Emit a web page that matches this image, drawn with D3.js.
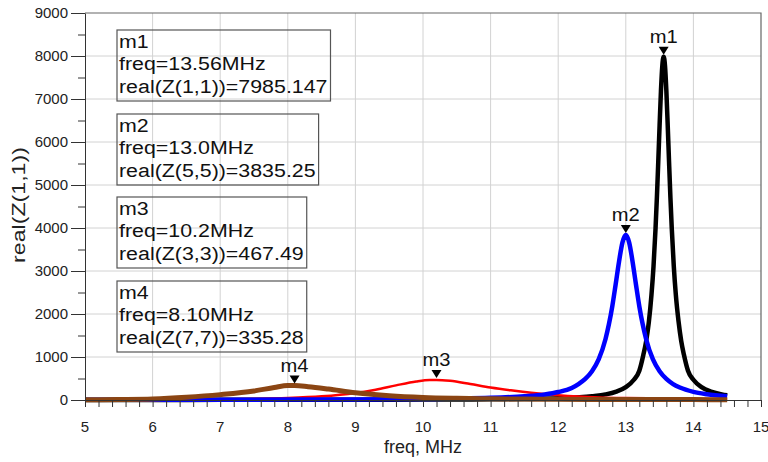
<!DOCTYPE html>
<meta charset="utf-8">
<script src="https://d3js.org/d3.v7.min.js"></script>
<style>
  body { margin: 0; background: #fff; }
  text { font-family: "Liberation Sans", Arial, sans-serif; }
</style>
<div id="chart"></div>
<script>

// traces (freq in MHz, real part of Z in ohms)
var freqZ11 = [5.0, 6.0, 7.0, 8.0, 9.0, 10.0, 10.5, 11.0, 11.5, 12.0, 12.5, 12.7, 12.86, 13.0, 13.12, 13.2, 13.26, 13.3, 13.34, 13.38, 13.41, 13.44, 13.46, 13.48, 13.5, 13.52, 13.54, 13.56, 13.58, 13.6, 13.62, 13.64, 13.66, 13.68, 13.71, 13.74, 13.78, 13.82, 13.86, 13.92, 14.0, 14.12, 14.26, 14.42, 14.5];
var realZ11 = [2, 2, 3, 4, 6, 9, 12, 17, 24, 40, 88, 130, 195, 300, 470, 680, 1050, 1360, 1800, 2450, 3110, 3990, 4710, 5530, 6390, 7190, 7770, 7985, 7770, 7190, 6390, 5530, 4710, 3990, 3110, 2450, 1830, 1370, 1050, 680, 470, 300, 195, 130, 110];

var freqZ55 = [5.0, 6.0, 7.0, 8.0, 9.0, 10.0, 10.5, 11.0, 11.5, 11.8, 12.0, 12.2, 12.3, 12.4, 12.5, 12.6, 12.7, 12.75, 12.8, 12.85, 12.9, 12.95, 13.0, 13.05, 13.1, 13.15, 13.2, 13.25, 13.3, 13.4, 13.5, 13.6, 13.7, 13.8, 14.0, 14.2, 14.5];
var realZ55 = [4, 5, 7, 9, 12, 22, 32, 50, 88, 130, 185, 280, 370, 490, 670, 950, 1420, 1760, 2180, 2690, 3220, 3660, 3835, 3660, 3220, 2690, 2180, 1760, 1420, 950, 670, 490, 370, 290, 190, 135, 85];

var freqZ33 = [5.0, 5.5, 6.0, 6.5, 7.0, 7.5, 8.0, 8.5, 9.0, 9.3, 9.6, 9.9, 10.1, 10.2, 10.4, 10.7, 11.0, 11.3, 11.6, 12.0, 12.3, 12.6, 13.0, 13.5, 14.0, 14.5];
var realZ33 = [3, 4, 6, 9, 15, 25, 45, 85, 165, 240, 340, 430, 465, 467, 445, 370, 290, 225, 170, 110, 80, 60, 45, 35, 28, 22];

var freqZ77 = [5.0, 5.5, 6.0, 6.5, 7.0, 7.5, 7.8, 8.0, 8.1, 8.3, 8.6, 9.0, 9.5, 10.0, 10.5, 11.0, 11.5, 12.0, 13.0, 14.0, 14.5];
var realZ77 = [5, 12, 25, 65, 125, 210, 290, 335, 335, 310, 255, 170, 100, 60, 40, 28, 22, 17, 12, 9, 8];

// markers
var markerNames = ["m1", "m2", "m3", "m4"];
var markerFreqs = [13.56, 13.0, 10.2, 8.10];
var markerValues = [7985.147, 3835.25, 467.49, 335.28];
var markerFreqText = ["13.56MHz", "13.0MHz", "10.2MHz", "8.10MHz"];
var markerValueText = ["7985.147", "3835.25", "467.49", "335.28"];
var markerTraces = ["real(Z(1,1))", "real(Z(5,5))", "real(Z(3,3))", "real(Z(7,7))"];

var xTicks = [5, 6, 7, 8, 9, 10, 11, 12, 13, 14, 15];
var yTicks = [0, 1000, 2000, 3000, 4000, 5000, 6000, 7000, 8000, 9000];

// layout
var W = 768, H = 462;
var margin = {top: 13, right: 7, bottom: 62, left: 85},
    width = W - margin.left - margin.right,
    height = H - margin.top - margin.bottom;

var svg = d3.select("#chart")
  .append("svg")
    .attr("width", W)
    .attr("height", H)
  .append("g")
    .attr("transform", "translate(" + margin.left + "," + margin.top + ")");

var x = d3.scaleLinear().domain([5, 15]).range([0, width]);
var y = d3.scaleLinear().domain([0, 9000]).range([height, 0]);

// grid
svg.append("g")
  .selectAll("line")
  .data(xTicks.slice(1, -1))
  .enter().append("line")
    .attr("x1", function(d) { return x(d); })
    .attr("x2", function(d) { return x(d); })
    .attr("y1", 0).attr("y2", height)
    .attr("stroke", "#d2d2d2").attr("stroke-width", 1);
svg.append("g")
  .selectAll("line")
  .data(yTicks.slice(1, -1))
  .enter().append("line")
    .attr("x1", 0).attr("x2", width)
    .attr("y1", function(d) { return y(d); })
    .attr("y2", function(d) { return y(d); })
    .attr("stroke", "#d2d2d2").attr("stroke-width", 1);

// frame top and right
svg.append("path")
  .attr("d", "M0,0H" + width + "V" + height)
  .attr("fill", "none").attr("stroke", "#666").attr("stroke-width", 1.2);

// marker readout boxes
var boxTop = [30, 114, 197, 281];
var sx = 1.125;
markerNames.forEach(function(name, i) {
  var g = svg.append("g")
    .attr("transform", "translate(" + (117 - margin.left) + "," + (boxTop[i] - margin.top) + ")");
  var rect = g.append("rect")
    .attr("height", 71)
    .attr("fill", "none")
    .attr("stroke", "#555")
    .attr("stroke-width", 1.2);
  var lines = [name, "freq=" + markerFreqText[i], markerTraces[i] + "=" + markerValueText[i]];
  var maxLen = 0;
  lines.forEach(function(s, k) {
    var t = g.append("text")
      .attr("transform", "translate(2," + (17.5 + k * 22.8) + ") scale(" + sx + ",1)")
      .style("font-size", "19px")
      .attr("fill", "#111")
      .text(s);
    maxLen = Math.max(maxLen, t.node().getComputedTextLength());
  });
  rect.attr("width", maxLen * sx + 5);
});

// traces
var line = d3.line()
  .x(function(d) { return x(d[0]); })
  .y(function(d) { return y(d[1]); })
  .curve(d3.curveMonotoneX);

var traces = [
  {f: freqZ11, v: realZ11, color: "#000000", w: 4.5},
  {f: freqZ33, v: realZ33, color: "#ff0000", w: 2.5},
  {f: freqZ55, v: realZ55, color: "#0000ff", w: 4.5},
  {f: freqZ77, v: realZ77, color: "#8b4513", w: 5}
];
traces.forEach(function(t) {
  svg.append("path")
    .datum(d3.zip(t.f, t.v))
    .attr("fill", "none")
    .attr("stroke", t.color)
    .attr("stroke-width", t.w)
    .attr("stroke-linejoin", "round")
    .attr("d", line);
});

// axes
var xAxis = svg.append("g")
  .attr("transform", "translate(0," + height + ")")
  .call(d3.axisBottom(x).tickValues(d3.range(50, 151, 2).map(function(d) { return d / 10; }))
    .tickSize(7).tickSizeOuter(0).tickFormat(""));
xAxis.select(".domain").attr("stroke", "#333");
xAxis.selectAll(".tick line").attr("stroke", "#333");
svg.append("g")
  .selectAll("text")
  .data(xTicks)
  .enter().append("text")
    .attr("x", function(d) { return x(d); })
    .attr("y", height + 32)
    .attr("text-anchor", "middle")
    .style("font-size", "15px")
    .attr("fill", "#222")
    .text(function(d) { return d; });

var yAxis = svg.append("g")
  .call(d3.axisLeft(y).tickValues(d3.range(500, 9000, 1000)).tickSize(7).tickSizeOuter(0).tickFormat(""));
yAxis.select(".domain").attr("stroke", "#333");
yAxis.selectAll(".tick line").attr("stroke", "#333");
var yMajor = svg.append("g")
  .call(d3.axisLeft(y).tickValues(yTicks).tickSize(14).tickPadding(3).tickFormat(d3.format("d")));
yMajor.select(".domain").remove();
yMajor.selectAll(".tick line").attr("stroke", "#333");
yMajor.selectAll(".tick text")
  .style("font-family", "Liberation Sans, Arial, sans-serif")
  .style("font-size", "15px")
  .attr("fill", "#222");

// axis titles
svg.append("text")
  .attr("x", x(10))
  .attr("y", height + 53)
  .attr("text-anchor", "middle")
  .style("font-size", "18px")
  .attr("fill", "#222")
  .text("freq, MHz");
svg.append("text")
  .attr("transform", "translate(" + (25 - margin.left) + "," + (205 - margin.top) + ") rotate(-90) scale(1.22,1)")
  .attr("text-anchor", "middle")
  .style("font-size", "19px")
  .attr("fill", "#222")
  .text("real(Z(1,1))");

// marker triangles and labels
markerNames.forEach(function(name, i) {
  var px = x(markerFreqs[i]), py = y(markerValues[i]) - 2;
  svg.append("path")
    .attr("d", "M" + (px - 5) + "," + (py - 8) + "L" + (px + 5) + "," + (py - 8) + "L" + px + "," + py + "Z")
    .attr("fill", "#000");
  svg.append("text")
    .attr("transform", "translate(" + px + "," + (py - 12) + ") scale(1.12,1)")
    .attr("text-anchor", "middle")
    .style("font-size", "18px")
    .attr("fill", "#111")
    .text(name);
});

</script>
